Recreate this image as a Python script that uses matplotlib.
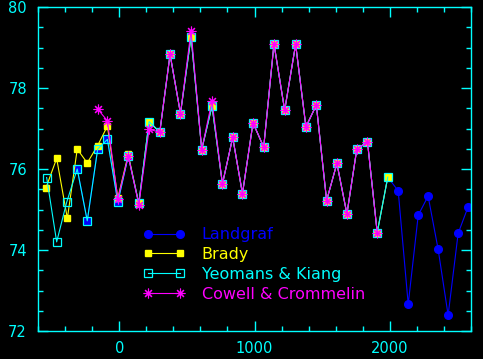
import matplotlib
matplotlib.use("Agg")
import matplotlib.pyplot as plt
from matplotlib.ticker import MultipleLocator

# perihelion year vs period (years)
yk_x = [-536, -462, -388, -310, -236, -159, -87, -10, 67, 145, 221, 300, 376, 453,
        531, 610, 686, 763, 839, 911, 989, 1068, 1144, 1223, 1304, 1380, 1457,
        1533, 1609, 1683, 1756, 1835, 1907, 1985]
yk_y = [75.79, 74.20, 75.18, 76.00, 74.72, 76.49, 76.73, 75.18, 76.32, 75.15,
        77.17, 76.91, 78.83, 77.37, 79.27, 76.48, 77.56, 75.63, 76.78, 75.39,
        77.14, 76.54, 79.09, 77.45, 79.08, 77.04, 77.58, 75.22, 76.14, 74.89,
        76.49, 76.67, 74.43, 75.80]

brady_x = [-543, -462, -383, -310, -236, -159, -87, -10, 67, 145, 221, 300, 376,
           453, 531, 610, 686, 763, 839, 911, 989, 1068, 1144, 1223, 1304, 1380,
           1457, 1533, 1609, 1683, 1756, 1835, 1907, 1985]
brady_y = [75.52, 76.26, 74.78, 76.49, 76.15, 76.58, 77.06, 75.28, 76.36, 75.15,
           77.17, 76.91, 78.83, 77.37, 79.27, 76.48, 77.56, 75.63, 76.78, 75.39,
           77.14, 76.54, 79.09, 77.45, 79.08, 77.04, 77.58, 75.22, 76.14, 74.89,
           76.49, 76.67, 74.43, 75.80]

cc_x = [-159, -87, -10, 67, 145, 221, 300, 376, 453, 531, 610, 686, 763, 839,
        911, 989, 1068, 1144, 1223, 1304, 1380, 1457, 1533, 1609, 1683, 1756,
        1835, 1907]
cc_y = [77.48, 77.19, 75.26, 76.32, 75.12, 76.98, 76.91, 78.83, 77.37, 79.41,
        76.48, 77.68, 75.63, 76.78, 75.39, 77.14, 76.54, 79.09, 77.45, 79.08,
        77.04, 77.58, 75.22, 76.14, 74.89, 76.49, 76.67, 74.43]

lg_x = [-310, -236, -159, -87, -10, 67, 145, 221, 300, 376, 453, 531, 610, 686,
        763, 839, 911, 989, 1068, 1144, 1223, 1304, 1380, 1457, 1533, 1609, 1683,
        1756, 1835, 1907, 1985, 2062, 2136, 2210, 2283, 2357, 2431, 2505, 2579]
lg_y = [76.00, 74.72, 76.49, 76.73, 75.18, 76.32, 75.15, 77.17, 76.91, 78.83,
        77.37, 79.27, 76.48, 77.56, 75.63, 76.78, 75.39, 77.14, 76.54, 79.09,
        77.45, 79.08, 77.04, 77.58, 75.22, 76.14, 74.89, 76.49, 76.67, 74.43,
        75.80, 75.46, 72.66, 74.86, 75.33, 74.02, 72.39, 74.41, 75.07]

cyan = "#00ffff"
fig = plt.figure(figsize=(4.83, 3.59), dpi=100, facecolor="black")
ax = fig.add_axes([38/483, 28/359, 433/483, 324/359], facecolor="black")

ax.plot(lg_x, lg_y, color="#0000ff", lw=0.8, marker="o", ms=5.5, mec="#0000ff", label="Landgraf")
ax.plot(brady_x, brady_y, color="#ffff00", lw=0.8, marker="s", ms=5, mec="#ffff00", label="Brady")
ax.plot(yk_x, yk_y, color=cyan, lw=0.8, marker="s", ms=5.5, mfc="none", mec=cyan, mew=0.9,
        label="Yeomans & Kiang")
ax.plot(cc_x, cc_y, color="#ff00ff", lw=0.8, marker=(8, 2, 0), ms=7, mec="#ff00ff", mew=0.8,
        label="Cowell & Crommelin")

ax.set_xlim(-600, 2600)
ax.set_ylim(72, 80)
ax.xaxis.set_major_locator(MultipleLocator(1000))
ax.xaxis.set_minor_locator(MultipleLocator(200))
ax.yaxis.set_major_locator(MultipleLocator(2))
ax.yaxis.set_minor_locator(MultipleLocator(0.5))
ax.tick_params(which="both", direction="in", top=True, right=True, color=cyan,
               labelcolor=cyan, labelsize=10.5, width=1)
ax.tick_params(which="major", length=7)
ax.tick_params(which="minor", length=3.6)
ax.tick_params(axis="x", pad=7)
ax.tick_params(axis="y", pad=8)
for s in ax.spines.values():
    s.set_color(cyan)
    s.set_linewidth(1)

leg = ax.legend(loc="upper left", bbox_to_anchor=(0.225, 0.345), frameon=False,
                numpoints=2, fontsize=11.5, handlelength=2.6, handletextpad=1.05,
                labelspacing=0.3, borderpad=0, labelcolor="linecolor")

fig.savefig("out.png", dpi=100, facecolor="black")
